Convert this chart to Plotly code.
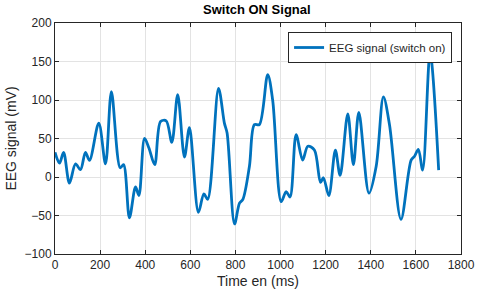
import plotly.graph_objects as go

time_ms = [0, 20, 38, 64, 91, 113, 135, 153, 194, 224, 250, 289, 304, 330, 357, 372,
           397, 416, 442, 468, 493, 518, 544, 574, 596, 636, 660, 677, 725, 751, 763,
           796, 818, 833, 862, 884, 906, 943, 965, 1003, 1025, 1042, 1069, 1098, 1121,
           1150, 1177, 1190, 1214, 1243, 1264, 1298, 1323, 1347, 1392, 1424, 1456, 1483,
           1534, 1579, 1594, 1611, 1630, 1663, 1701]
eeg_mv = [32, 18, 32, -8, 17, 9.5, 32, 21.5, 70, 17, 111, 12, 16, -53, -13, -24,
          50, 38, 16, 72, 73, 45, 107, 26, 64, -46, -22, -29, 115, 70, 57,
          -61, -34, -29, 14, 68, 68, 133, 100, -32, -19, -26, 55, 22, 40,
          35, -7, -1, -24, 35, 2, 82, 16, 84, -21, 14, 104, 68,
          -55, 22, 27, 36, 9, 161, 9]

x_ticks = [0, 200, 400, 600, 800, 1000, 1200, 1400, 1600, 1800]
y_ticks = [-100, -50, 0, 50, 100, 150, 200]

FONT = "Liberation Sans, Arial"

fig = go.Figure()
fig.add_trace(go.Scatter(
    x=time_ms, y=eeg_mv, mode="lines",
    line=dict(color="#0072BD", width=2.8, shape="spline", smoothing=0.9),
    name="EEG signal (switch on)",
))

axis_common = dict(
    showgrid=True, gridcolor="#e3e3e3", gridwidth=1,
    showline=True, linecolor="#262626", linewidth=1, mirror="ticks",
    ticks="inside", ticklen=4, tickcolor="#262626",
    zeroline=False, automargin=False,
    tickfont=dict(family=FONT, size=12, color="#262626"),
)

fig.update_xaxes(range=[0, 1800], tickvals=x_ticks,
                 title=dict(text="Time en (ms)", font=dict(family=FONT, size=14, color="#262626"), standoff=4),
                 **axis_common)
fig.update_yaxes(range=[-100, 200], tickvals=y_ticks,
                 title=dict(text="EEG signal (mV)", font=dict(family=FONT, size=14, color="#262626"), standoff=4),
                 **axis_common)

fig.update_layout(
    width=480, height=298,
    margin=dict(l=55, r=19, t=23, b=44),
    paper_bgcolor="white", plot_bgcolor="white",
    title=dict(text="<b>Switch ON Signal</b>", x=0.535, xanchor="center", y=0.985, yanchor="top",
               font=dict(family=FONT, size=13, color="#000000")),
    showlegend=True,
    legend=dict(x=0.978, y=0.961, xanchor="right", yanchor="top",
                bgcolor="white", bordercolor="#262626", borderwidth=1,
                font=dict(family=FONT, size=11.5, color="#262626"),
                itemwidth=30, tracegroupgap=0),
)

fig.write_html("out.html", config={"displayModeBar": False},
               post_script="document.body.style.margin='0';")
